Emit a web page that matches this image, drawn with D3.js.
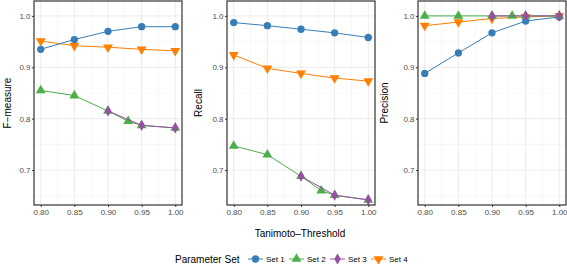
<!DOCTYPE html>
<html>
<head>
<meta charset="utf-8">
<script src="https://d3js.org/d3.v7.min.js"></script>
<style>
  body { margin: 0; background: #fff; font-family: "Liberation Sans", Arial, Helvetica, sans-serif; }
  .tick text { fill: #4d4d4d; font-size: 8px; }
</style>
</head>
<body>
<div id="viz"></div>
<script>
// x values (Tanimoto threshold) for each set
const thrFull = [0.80, 0.85, 0.90, 0.95, 1.00];
const thrSet2 = [0.80, 0.85, 0.90, 0.93, 0.95, 1.00];
const thrSet3 = [0.90, 0.95, 1.00];

const setNames = ["Set 1", "Set 2", "Set 3", "Set 4"];
const setColors = ["#377eb8", "#4daf4a", "#984ea3", "#ff7f00"];
const setShapes = [d3.symbolCircle, d3.symbolTriangle, d3.symbolDiamond, "down"];

const metrics = ["F\u2212measure", "Recall", "Precision"];

// F-measure
const fSet1 = [0.935, 0.954, 0.970, 0.979, 0.979];
const fSet2 = [0.855, 0.845, 0.815, 0.795, 0.787, 0.782];
const fSet3 = [0.815, 0.787, 0.782];
const fSet4 = [0.951, 0.942, 0.939, 0.935, 0.932];
// Recall
const rSet1 = [0.987, 0.981, 0.974, 0.967, 0.958];
const rSet2 = [0.747, 0.730, 0.688, 0.660, 0.651, 0.642];
const rSet3 = [0.688, 0.651, 0.642];
const rSet4 = [0.924, 0.898, 0.888, 0.879, 0.873];
// Precision
const pSet1 = [0.888, 0.928, 0.967, 0.990, 0.998];
const pSet2 = [1.000, 1.000, 1.000, 1.000, 1.000, 1.000];
const pSet3 = [1.000, 1.000, 1.000];
const pSet4 = [0.981, 0.988, 0.995, 0.998, 1.000];

const xTicks = [0.80, 0.85, 0.90, 0.95, 1.00];
const yTicks = [0.7, 0.8, 0.9, 1.0];

const panelData = [
  [fSet1, fSet2, fSet3, fSet4],
  [rSet1, rSet2, rSet3, rSet4],
  [pSet1, pSet2, pSet3, pSet4]
];
const xsBySet = [thrFull, thrSet2, thrSet3, thrFull];

const W = 567, H = 264;
const panelLeft = [34, 227, 418];
const titleOffset = [-23, -25, -30];
const panelW = 148, panelTop = 1, panelBottom = 205;

const svg = d3.select("#viz").append("svg")
  .attr("width", W).attr("height", H);

function shapePath(s, size) {
  if (s === "down") return d3.symbol().type(d3.symbolTriangle).size(size)();
  return d3.symbol().type(s).size(size)();
}

const y = d3.scaleLinear().domain([0.632, 1.029]).range([panelBottom, panelTop]);

panelData.forEach((series, pi) => {
  const x = d3.scaleLinear().domain([0.79, 1.01]).range([0, panelW]);
  const g = svg.append("g").attr("transform", `translate(${panelLeft[pi]},0)`);

  // minor grid
  const xMinor = [0.825, 0.875, 0.925, 0.975];
  const yMinor = [0.65, 0.75, 0.85, 0.95];
  g.selectAll(".xminor").data(xMinor).enter().append("line")
    .attr("x1", d => x(d)).attr("x2", d => x(d))
    .attr("y1", panelTop).attr("y2", panelBottom)
    .attr("stroke", "#f2f2f2").attr("stroke-width", 0.6);
  g.selectAll(".yminor").data(yMinor).enter().append("line")
    .attr("x1", 0).attr("x2", panelW)
    .attr("y1", d => y(d)).attr("y2", d => y(d))
    .attr("stroke", "#f2f2f2").attr("stroke-width", 0.6);
  // major grid
  g.selectAll(".xmajor").data(xTicks).enter().append("line")
    .attr("x1", d => x(d)).attr("x2", d => x(d))
    .attr("y1", panelTop).attr("y2", panelBottom)
    .attr("stroke", "#ebebeb").attr("stroke-width", 1);
  g.selectAll(".ymajor").data(yTicks).enter().append("line")
    .attr("x1", 0).attr("x2", panelW)
    .attr("y1", d => y(d)).attr("y2", d => y(d))
    .attr("stroke", "#ebebeb").attr("stroke-width", 1);

  // axes
  const ax = g.append("g")
    .attr("transform", `translate(0,${panelBottom})`)
    .call(d3.axisBottom(x).tickValues(xTicks).tickFormat(d3.format(".2f")).tickSize(2).tickPadding(2));
  const ay = g.append("g")
    .call(d3.axisLeft(y).tickValues(yTicks).tickFormat(d3.format(".1f")).tickSize(2).tickPadding(1.5));
  [ax, ay].forEach(a => {
    a.select(".domain").remove();
    a.selectAll(".tick line").attr("stroke", "#333");
    a.selectAll(".tick text").style("font-family", "Liberation Sans, Arial, sans-serif");
  });

  // lines and points (set 4, set 1 first, then set 2, set 3 on top)
  [3, 0, 1, 2].forEach(si => {
    const xs = xsBySet[si];
    const vals = series[si];
    const pts = xs.map((t, i) => [t, vals[i]]);
    g.append("path")
      .attr("d", d3.line().x(d => x(d[0])).y(d => y(d[1]))(pts))
      .attr("fill", "none").attr("stroke", setColors[si]).attr("stroke-width", 1);
    g.selectAll(null).data(pts).enter().append("path")
      .attr("d", shapePath(setShapes[si], si === 2 ? 36 : 42))
      .attr("transform", d => `translate(${x(d[0])},${y(d[1])})${setShapes[si] === "down" ? " rotate(180)" : ""}`)
      .attr("fill", setColors[si]);
  });

  // border
  g.append("rect")
    .attr("x", 0).attr("y", panelTop)
    .attr("width", panelW).attr("height", panelBottom - panelTop)
    .attr("fill", "none").attr("stroke", "#333").attr("stroke-width", 1.2);

  // y title
  g.append("text")
    .attr("transform", `translate(${titleOffset[pi]},${(panelTop + panelBottom) / 2}) rotate(-90)`)
    .attr("text-anchor", "middle")
    .attr("font-size", 10)
    .attr("fill", "#000")
    .text(metrics[pi]);
});

// x title
svg.append("text")
  .attr("x", 300).attr("y", 237)
  .attr("text-anchor", "middle")
  .attr("font-size", 10)
  .text("Tanimoto\u2013Threshold");

// legend
const leg = svg.append("g").attr("transform", "translate(0,259)");
leg.append("text").attr("x", 175).attr("y", 3.5)
  .attr("font-size", 10).text("Parameter Set");
const keyX = [248, 289, 330, 371];
setNames.forEach((name, si) => {
  const kx = keyX[si];
  leg.append("line").attr("x1", kx).attr("x2", kx + 15)
    .attr("y1", 0).attr("y2", 0)
    .attr("stroke", setColors[si]).attr("stroke-width", 1);
  leg.append("path")
    .attr("d", shapePath(setShapes[si], si === 2 ? 36 : 42))
    .attr("transform", `translate(${kx + 7.5},0)${setShapes[si] === "down" ? " rotate(180)" : ""}`)
    .attr("fill", setColors[si]);
  leg.append("text").attr("x", kx + 18).attr("y", 3)
    .attr("font-size", 8).text(name);
});
</script>
</body>
</html>
